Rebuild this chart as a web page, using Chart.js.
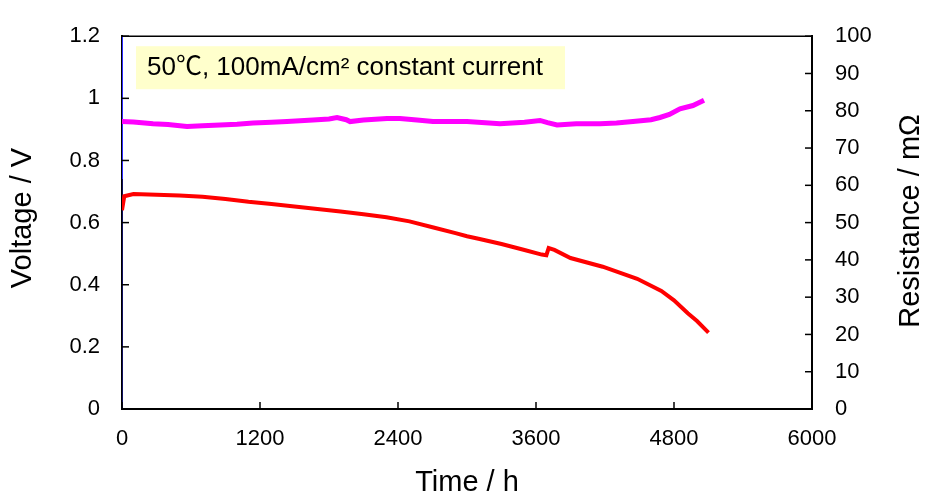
<!DOCTYPE html>
<html>
<head>
<meta charset="utf-8">
<script src="https://cdn.jsdelivr.net/npm/chart.js@4.4.1/dist/chart.umd.min.js"></script>
<style>
  html, body { margin: 0; padding: 0; background: #fff; }
  #wrap { width: 925px; height: 496px; }
</style>
</head>
<body>
<div id="wrap"><canvas id="chart" width="925" height="496"></canvas></div>
<script>
// Values

// time axis ticks (h)
const timeTicks = [0, 1200, 2400, 3600, 4800, 6000];
const voltTicks = [0, 0.2, 0.4, 0.6, 0.8, 1, 1.2];
const resTicks = [0, 10, 20, 30, 40, 50, 60, 70, 80, 90, 100];

// cell voltage (V), red
const voltTime = [0, 20, 100, 300, 500, 700, 900, 1100, 1300, 1500, 1700, 1900, 2100, 2300, 2500, 2700, 2900, 3000, 3100, 3300, 3500, 3650, 3690, 3710, 3760, 3900, 4180, 4480, 4690, 4800, 4920, 5000, 5100];
const voltage = [0.64, 0.685, 0.692, 0.69, 0.687, 0.683, 0.676, 0.667, 0.66, 0.652, 0.644, 0.636, 0.627, 0.617, 0.604, 0.585, 0.566, 0.556, 0.548, 0.531, 0.512, 0.497, 0.495, 0.518, 0.512, 0.486, 0.458, 0.419, 0.38, 0.35, 0.308, 0.283, 0.246];

// resistance (mOhm), magenta
const resTime = [0, 100, 270, 400, 565, 700, 852, 1000, 1139, 1300, 1435, 1661, 1800, 1870, 1950, 1983, 2100, 2304, 2417, 2565, 2704, 3000, 3287, 3500, 3635, 3700, 3783, 3950, 4157, 4300, 4443, 4600, 4678, 4760, 4852, 4965, 5061];
const resistance = [77.1, 77.0, 76.5, 76.3, 75.8, 76.0, 76.2, 76.4, 76.7, 76.9, 77.1, 77.5, 77.8, 78.2, 77.6, 77.1, 77.5, 77.9, 77.9, 77.5, 77.1, 77.1, 76.5, 76.9, 77.4, 76.8, 76.2, 76.5, 76.5, 76.7, 77.1, 77.6, 78.2, 79.0, 80.5, 81.4, 82.8];

// start-up trace at t = 0 (blue)
const startTime = [0, 0, 0];
const startVolt = [1.2, 0.74, 0];

const note = '50\u2103, 100mA/cm\u00b2 constant current';
const FONT = '"Liberation Sans", Arial, "Noto Sans CJK JP", sans-serif';

function pts(xs, ys) {
  return xs.map((x, i) => ({ x: x, y: ys[i] }));
}

// inward tick marks, top border, annotation box and axis titles
const framePlugin = {
  id: 'frame',
  afterDraw(chart) {
    const ctx = chart.ctx;
    const a = chart.chartArea;
    ctx.save();
    ctx.strokeStyle = '#000';
    ctx.lineWidth = 1.5;
    ctx.beginPath();
    ctx.moveTo(a.left, a.top);
    ctx.lineTo(a.right, a.top);
    ctx.stroke();

    const len = 7;
    chart.scales.x.ticks.forEach(t => {
      const px = chart.scales.x.getPixelForValue(t.value);
      ctx.beginPath(); ctx.moveTo(px, a.bottom); ctx.lineTo(px, a.bottom - len); ctx.stroke();
    });
    chart.scales.yV.ticks.forEach(t => {
      const py = chart.scales.yV.getPixelForValue(t.value);
      ctx.beginPath(); ctx.moveTo(a.left, py); ctx.lineTo(a.left + len, py); ctx.stroke();
    });
    chart.scales.yR.ticks.forEach(t => {
      const py = chart.scales.yR.getPixelForValue(t.value);
      ctx.beginPath(); ctx.moveTo(a.right, py); ctx.lineTo(a.right - len, py); ctx.stroke();
    });

    // annotation
    ctx.fillStyle = '#ffffcc';
    ctx.fillRect(a.left + 14, a.top + 10, 429, 43);
    ctx.fillStyle = '#000';
    ctx.font = '26px ' + FONT;
    ctx.textBaseline = 'middle';
    ctx.textAlign = 'left';
    ctx.fillText(note, a.left + 25, a.top + 32);

    // axis titles
    ctx.font = '29px ' + FONT;
    ctx.textAlign = 'center';
    ctx.fillText('Time / h', (a.left + a.right) / 2, 483);
    ctx.save();
    ctx.translate(23, 218);
    ctx.rotate(-Math.PI / 2);
    ctx.fillText('Voltage / V', 0, 0);
    ctx.restore();
    ctx.save();
    ctx.translate(911, 221);
    ctx.rotate(-Math.PI / 2);
    ctx.fillText('Resistance / m\u03a9', 0, 0);
    ctx.restore();
    ctx.restore();
  }
};

const tickFont = { family: FONT, size: 22 };
const plain = v => String(v);

new Chart(document.getElementById('chart'), {
  type: 'line',
  data: {
    datasets: [
      {
        label: 'Resistance',
        data: pts(resTime, resistance),
        yAxisID: 'yR',
        borderColor: '#ff00ff',
        borderWidth: 5,
        pointRadius: 0,
        tension: 0
      },
      {
        label: 'Voltage',
        data: pts(voltTime, voltage),
        yAxisID: 'yV',
        borderColor: '#ff0000',
        borderWidth: 4,
        pointRadius: 0,
        tension: 0
      },
      {
        label: 'Start',
        data: pts(startTime, startVolt),
        yAxisID: 'yV',
        borderColor: '#2a2aff',
        segment: { borderColor: c => c.p0DataIndex === 1 ? '#101060' : '#2a2aff' },
        borderWidth: 2,
        pointRadius: 0
      }
    ]
  },
  options: {
    responsive: false,
    animation: false,
    layout: { padding: { top: 19, left: 0, right: 0, bottom: 0 } },
    plugins: { legend: { display: false }, tooltip: { enabled: false } },
    scales: {
      x: {
        type: 'linear',
        min: 0,
        max: 6000,
        afterBuildTicks: s => { s.ticks = timeTicks.map(v => ({ value: v })); },
        afterFit: s => { s.height = 87; },
        ticks: { color: '#000', font: tickFont, padding: 17, maxRotation: 0, callback: plain },
        grid: { display: false, drawTicks: false },
        border: { display: true, color: '#000', width: 2 }
      },
      yV: {
        position: 'left',
        min: 0,
        max: 1.2,
        afterBuildTicks: s => { s.ticks = voltTicks.map(v => ({ value: v })); },
        afterFit: s => { s.width = 122; },
        ticks: { color: '#000', font: tickFont, padding: 22, callback: plain },
        grid: { display: false, drawTicks: false },
        border: { display: true, color: '#000', width: 2 }
      },
      yR: {
        position: 'right',
        min: 0,
        max: 100,
        afterBuildTicks: s => { s.ticks = resTicks.map(v => ({ value: v })); },
        afterFit: s => { s.width = 113; },
        ticks: { color: '#000', font: tickFont, padding: 23, callback: plain },
        grid: { display: false, drawTicks: false },
        border: { display: true, color: '#000', width: 2 }
      }
    }
  },
  plugins: [framePlugin]
});
</script>
</body>
</html>
